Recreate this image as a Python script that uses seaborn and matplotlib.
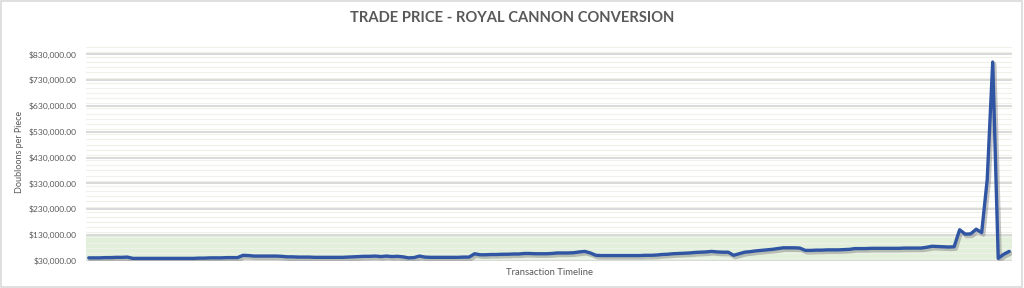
import matplotlib
matplotlib.use("Agg")
import matplotlib.pyplot as plt
import matplotlib.patheffects as pe
from matplotlib.patches import Rectangle
from matplotlib.ticker import FixedLocator, MultipleLocator, FuncFormatter
import seaborn as sns
import pandas as pd
import numpy as np

# ---- data (prices in thousands of doubloons) ----
price_k = [
    41, 41, 41, 42, 42, 43, 43, 44,
    39, 39, 39, 39, 39, 39, 39, 39, 39, 39, 39, 39,
    40, 40, 41, 41, 41, 42, 42, 42,
    51, 50,
    48, 48, 48, 48, 48, 47,
    45, 45, 44, 44, 44, 43, 43, 43,
    43, 43, 43, 44, 45,
    46, 47, 47, 48, 46, 48, 46, 47, 45,
    41, 42,
    48,
    44, 43, 43, 43, 43, 43, 43, 44, 44,
    57,
    53, 53, 54, 54, 55, 55, 56, 56,
    58, 58,
    57, 57, 57, 58,
    60, 60, 60, 61,
    64, 66, 60,
    51, 50, 50, 50, 50, 50, 50, 50, 50, 51, 51,
    52, 54, 55, 57, 58, 59, 60,
    62, 63, 64, 66, 64, 63, 63, 51, 57, 63, 65,
    68, 70, 72, 74, 77,
    80, 80, 80, 79,
    70, 70, 71, 71, 72, 72, 72, 73, 74,
    77, 77, 77, 78, 78, 78, 78, 78, 78, 79, 79,
    79, 79, 82, 86, 85, 84, 83, 84,
    150, 133, 134, 152, 139, 344, 800, 39, 55, 66,
]
price = [v * 1000 for v in price_k]
transaction = list(range(len(price)))

title = "TRADE PRICE - ROYAL CANNON CONVERSION"
y_label = "Doubloons per Piece"
x_label = "Transaction Timeline"
y_ticks = [30000, 130000, 230000, 330000, 430000, 530000, 630000, 730000, 830000]
band_low, band_high = 30000, 130000

df = pd.DataFrame({"transaction": transaction, "price": price})

sns.set_theme(style="white")
plt.rcParams["font.family"] = ["Lato", "DejaVu Sans"]

W, H = 1024, 288
fig = plt.figure(figsize=(W / 100, H / 100), dpi=100)
fig.patch.set_facecolor("white")
fig.patches.append(Rectangle((0.001, 0.002), 0.997, 0.995, transform=fig.transFigure,
                             fill=False, edgecolor="#d9d9d9", linewidth=1.2))

ax_left, ax_right, ax_top, ax_bottom = 86, 1012, 44, 260.7
ax = fig.add_axes([ax_left / W, 1 - ax_bottom / H, (ax_right - ax_left) / W, (ax_bottom - ax_top) / H])
ax.set_facecolor("white")

ax.axhspan(band_low, band_high, color="#e2efda", zorder=0, lw=0)

sns.lineplot(data=df, x="transaction", y="price", ax=ax, color="#2f55a3",
             linewidth=2.4, zorder=5,
             path_effects=[pe.SimpleLineShadow(offset=(1.2, -1.5), shadow_color="#7f7f7f",
                                               alpha=0.45, linewidth=3.0),
                           pe.Normal()])

n = len(price)
ax.set_xlim(-0.5, n - 0.5)
ax.set_ylim(30000, 870000)
ax.yaxis.set_major_locator(FixedLocator(y_ticks))
ax.yaxis.set_minor_locator(MultipleLocator(20000))
ax.yaxis.set_major_formatter(FuncFormatter(lambda v, p: f"${v:,.2f}"))
ax.set_xticks([])

ax.grid(axis="y", which="major", color="#d9d9d9", linewidth=1.4, zorder=1)
ax.grid(axis="y", which="minor", color="#edf1ea", linewidth=0.8, zorder=1)
ax.set_axisbelow(True)
for s in ax.spines.values():
    s.set_visible(False)

ax.tick_params(axis="y", which="both", length=0, pad=6.5, labelsize=6.1, labelcolor="#595959")

ax.set_xlabel(x_label, fontsize=6.8, color="#595959")
ax.xaxis.set_label_coords(0.5, -0.035, transform=ax.transAxes)
ax.xaxis.label.set_va("top")
ax.set_ylabel(y_label, fontsize=6.5, color="#595959")
ax.yaxis.set_label_coords((20 - ax_left) / (ax_right - ax_left), 0.5)
ax.yaxis.label.set_va("center")

fig.text(0.5, 1 - 18 / H, title, ha="center", va="center", fontsize=10.6,
         fontweight="bold", color="#595959")

fig.savefig("out.png", dpi=100, facecolor="white")
